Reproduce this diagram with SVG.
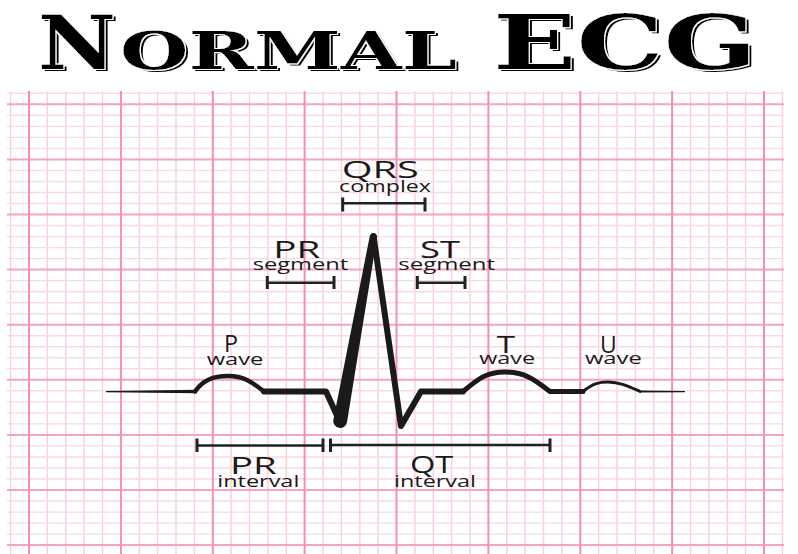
<svg xmlns="http://www.w3.org/2000/svg" width="798" height="554" viewBox="0 0 798 554">
<style>
.minv{stroke:#f7d0dc;stroke-width:1.4;fill:none}
.minh{stroke:#f9d9e2;stroke-width:1.4;fill:none}
.majv{stroke:#f290b3;stroke-width:2;fill:none}
.majh{stroke:#f4a3c0;stroke-width:2;fill:none}
.tr{fill:none;stroke:#1a1a1a;stroke-linejoin:round;stroke-linecap:round}
.big{font-family:"Open Sans","Noto Sans",sans-serif;font-size:24px;fill:#1a1a1a}
.sm{font-family:"Open Sans","Noto Sans",sans-serif;font-size:16px;fill:#1a1a1a}
.br{stroke:#222;stroke-width:2.5;fill:none}
.tk{stroke:#222;stroke-width:3;fill:none}
.tt{font-family:"DejaVu Serif",serif;font-weight:bold;fill:#000}
</style>
<defs>
<filter id="sh" x="-5%" y="-20%" width="115%" height="150%">
<feOffset in="SourceAlpha" dx="3" dy="2" result="o"/>
<feMorphology in="SourceAlpha" operator="dilate" radius="1.2" result="d"/>
<feFlood flood-color="#ffffff"/>
<feComposite in2="d" operator="in" result="w"/>
<feMerge><feMergeNode in="o"/><feMergeNode in="w"/><feMergeNode in="SourceGraphic"/></feMerge>
</filter>
</defs>
<rect width="798" height="554" fill="#ffffff"/>
<g id="grid">
<path class="minv" d="M10.6,91V554M47.4,91V554M65.8,91V554M84.1,91V554M102.5,91V554M139.3,91V554M157.6,91V554M176,91V554M194.4,91V554M231.1,91V554M249.5,91V554M267.9,91V554M286.3,91V554M323,91V554M341.4,91V554M359.8,91V554M378.1,91V554M414.9,91V554M433.3,91V554M451.6,91V554M470,91V554M506.8,91V554M525.1,91V554M543.5,91V554M561.9,91V554M598.6,91V554M617,91V554M635.4,91V554M653.8,91V554M690.5,91V554M708.9,91V554M727.3,91V554M745.6,91V554M782.4,91V554"/>
<path class="minh" d="M7,93.3H784M7,115.3H784M7,126.4H784M7,137.4H784M7,148.4H784M7,170.4H784M7,181.5H784M7,192.5H784M7,203.5H784M7,225.5H784M7,236.6H784M7,247.6H784M7,258.6H784M7,280.6H784M7,291.7H784M7,302.7H784M7,313.7H784M7,335.7H784M7,346.8H784M7,357.8H784M7,368.8H784M7,390.8H784M7,401.9H784M7,412.9H784M7,423.9H784M7,445.9H784M7,457H784M7,468H784M7,479H784M7,501H784M7,512.1H784M7,523.1H784M7,534.1H784"/>
<path class="majh" d="M7,104.3H784M7,159.4H784M7,214.5H784M7,269.6H784M7,324.7H784M7,379.8H784M7,434.9H784M7,490H784M7,545.1H784"/>
<path class="majv" d="M29,91V554M120.9,91V554M212.8,91V554M304.6,91V554M396.5,91V554M488.4,91V554M580.3,91V554M672.1,91V554M764,91V554"/>
</g>
<g id="title" filter="url(#sh)">
<text class="tt" x="38" y="69" font-size="74" textLength="78" lengthAdjust="spacingAndGlyphs">N</text>
<text class="tt" x="120" y="69" font-size="52" textLength="337" lengthAdjust="spacingAndGlyphs">ORMAL</text>
<text class="tt" x="493" y="69" font-size="74" textLength="264" lengthAdjust="spacingAndGlyphs">ECG</text>
</g>
<g id="trace">
<path d="M106,391 L197,389.8 L197,393.2 L106,392.2 Z" fill="#1a1a1a"/>
<path class="tr" stroke-width="4.5" d="M195,391.5 C203,380 213,376 228,376 C244,376 252,382 264,391.5"/>
<path class="tr" stroke-width="6" d="M264,391.5 L326,391.5 L339,420"/>
<path d="M333.4,419.8 L369.9,235.4 A3.8,3.8 0 0 1 377.1,236.6 L347,422.2 A6.8,6.8 0 0 1 333.4,419.8 Z" fill="#1a1a1a"/>
<path class="tr" stroke-width="6" d="M373.5,236 L401,426 L421,391.5 L463,391.5"/>
<path class="tr" stroke-width="5" d="M463,391.5 C478,379 486,372 505,372 C526,372 536,381 550,391.5 L583,391.5"/>
<path class="tr" stroke-width="3" d="M583,391.5 C593,383 600,382 608,382 C620,382 630,387 640,391.5"/>
<path d="M640,390.5 L685,391 L685,392.2 L640,392.5 Z" fill="#1a1a1a"/>
</g>
<g id="qrs-label">
<text class="big" x="341.7" y="178.3" textLength="77" lengthAdjust="spacingAndGlyphs">QRS</text>
<text class="sm" x="339" y="191.5" textLength="92" lengthAdjust="spacingAndGlyphs">complex</text>
</g>
<g id="pr-segment-label">
<text class="big" x="273.3" y="258.3" textLength="47" lengthAdjust="spacingAndGlyphs">PR</text>
<text class="sm" x="252.7" y="270" textLength="95.6" lengthAdjust="spacingAndGlyphs">segment</text>
</g>
<g id="st-segment-label">
<text class="big" x="420" y="258.3" textLength="40" lengthAdjust="spacingAndGlyphs">ST</text>
<text class="sm" x="398.3" y="270" textLength="96.7" lengthAdjust="spacingAndGlyphs">segment</text>
</g>
<g id="p-wave-label">
<text class="big" x="224" y="351.7" textLength="14" lengthAdjust="spacingAndGlyphs">P</text>
<text class="sm" x="206.7" y="365" textLength="56.6" lengthAdjust="spacingAndGlyphs">wave</text>
</g>
<g id="t-wave-label">
<text class="big" x="496.7" y="353.3" textLength="18.3" lengthAdjust="spacingAndGlyphs">T</text>
<text class="sm" x="479.3" y="364" textLength="55.7" lengthAdjust="spacingAndGlyphs">wave</text>
</g>
<g id="u-wave-label">
<text class="big" x="600" y="353" textLength="16.7" lengthAdjust="spacingAndGlyphs">U</text>
<text class="sm" x="585" y="364" textLength="56.7" lengthAdjust="spacingAndGlyphs">wave</text>
</g>
<g id="pr-interval-label">
<text class="big" x="230" y="474" textLength="46.7" lengthAdjust="spacingAndGlyphs">PR</text>
<text class="sm" x="217.3" y="487.3" textLength="82" lengthAdjust="spacingAndGlyphs">interval</text>
</g>
<g id="qt-interval-label">
<text class="big" x="410" y="473.3" textLength="43.3" lengthAdjust="spacingAndGlyphs">QT</text>
<text class="sm" x="394" y="486.7" textLength="82" lengthAdjust="spacingAndGlyphs">interval</text>
</g>
<g id="connectors">
<path class="br" d="M342.7,203.3H425"/>
<path class="tk" d="M342.7,197.5V211.5M425,197.5V211.5"/>
<path class="br" d="M267.3,282.7H334"/>
<path class="tk" d="M267.3,276V289M334,276V289"/>
<path class="br" d="M417.3,282.7H465"/>
<path class="tk" d="M417.3,276V289M465,276V289"/>
<path class="br" d="M197,445.5H323"/>
<path class="tk" d="M197,438.5V452M323,438.5V452"/>
<path class="br" d="M330.5,445H550"/>
<path class="tk" d="M330.5,438.5V452M550,438.5V452"/>
</g>
</svg>
